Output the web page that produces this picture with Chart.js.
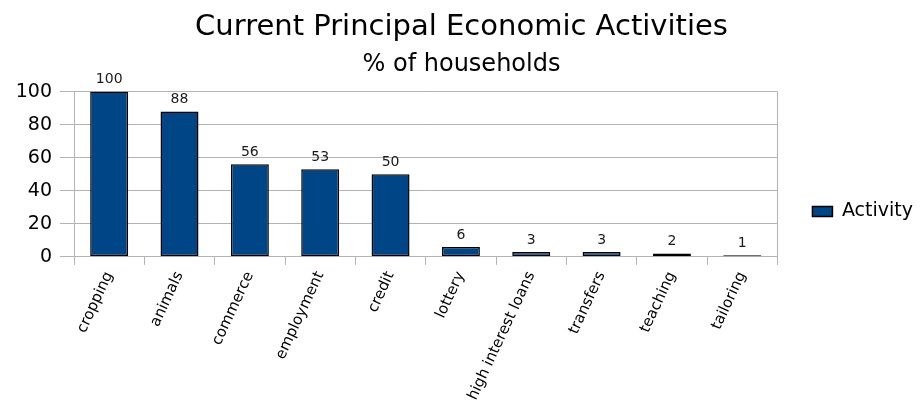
<!DOCTYPE html>
<html>
<head>
<meta charset="utf-8">
<script src="https://cdn.jsdelivr.net/npm/chart.js@4/dist/chart.umd.min.js"></script>
<style>
  html, body { margin: 0; padding: 0; background: #fff; }
  #wrap { width: 923px; height: 407px; }
</style>
</head>
<body>
<div id="wrap"><canvas id="chart"></canvas></div>
<script>
const activities = ['cropping', 'animals', 'commerce', 'employment', 'credit', 'lottery',
  'high interest loans', 'transfers', 'teaching', 'tailoring'];
const households = [100, 88, 56, 53, 50, 6, 3, 3, 2, 1];
const yTicks = [0, 20, 40, 60, 80, 100];

const FONT = '"DejaVu Sans", "Liberation Sans", sans-serif';
const GRID = '#b3b3b3';

// value above each bar + right border of the plot
const extras = {
  id: 'extras',
  afterLayout(chart) {
    // legend sits a bit lower than Chart.js centres it
    chart.legend.top += 8;
    chart.legend.bottom += 8;
  },
  afterDatasetsDraw(chart) {
    const ctx = chart.ctx;
    const meta = chart.getDatasetMeta(0);
    ctx.save();
    ctx.font = '14px ' + FONT;
    ctx.fillStyle = '#1a1a1a';
    ctx.textAlign = 'center';
    ctx.textBaseline = 'bottom';
    meta.data.forEach((bar, i) => {
      ctx.fillText(households[i], bar.x, bar.y - 5);
    });
    const a = chart.chartArea;
    ctx.strokeStyle = GRID;
    ctx.lineWidth = 1;
    ctx.beginPath();
    ctx.moveTo(Math.round(a.right) + 0.5, a.top);
    ctx.lineTo(Math.round(a.right) + 0.5, a.bottom + 8);
    ctx.stroke();
    ctx.restore();
  }
};

new Chart(document.getElementById('chart'), {
  type: 'bar',
  data: {
    labels: activities,
    datasets: [{
      label: 'Activity',
      data: households,
      backgroundColor: '#004586',
      borderColor: '#000',
      borderWidth: 1.5,
      borderSkipped: false,
      barPercentage: 0.54,
      categoryPercentage: 1
    }]
  },
  options: {
    responsive: true,
    maintainAspectRatio: false,
    animation: false,
    layout: { padding: { left: 0, right: 0, top: 0, bottom: 0 } },
    plugins: {
      title: {
        display: true,
        text: 'Current Principal Economic Activities',
        color: '#000',
        font: { family: FONT, size: 29, weight: 'normal' },
        padding: { top: 10, bottom: 6 }
      },
      subtitle: {
        display: true,
        text: '% of households',
        color: '#000',
        font: { family: FONT, size: 24, weight: 'normal' },
        padding: { bottom: 12 }
      },
      legend: {
        position: 'right',
        align: 'center',
        labels: {
          color: '#000',
          font: { family: FONT, size: 19 },
          boxWidth: 20,
          boxHeight: 10,
          padding: 35
        }
      },
      tooltip: { enabled: false }
    },
    scales: {
      x: {
        grid: { offset: true, drawOnChartArea: false, color: GRID, tickLength: 8 },
        border: { color: GRID },
        ticks: {
          color: '#000',
          font: { family: FONT, size: 15 },
          minRotation: 65,
          maxRotation: 65,
          padding: 4
        }
      },
      y: {
        min: 0,
        max: 100,
        afterBuildTicks(scale) { scale.ticks = yTicks.map(v => ({ value: v })); },
        afterFit(scale) { scale.width = 74; },
        grid: { color: GRID, tickLength: 14 },
        border: { color: GRID },
        ticks: {
          color: '#000',
          font: { family: FONT, size: 19 },
          padding: 8
        }
      }
    }
  },
  plugins: [extras]
});
</script>
</body>
</html>
